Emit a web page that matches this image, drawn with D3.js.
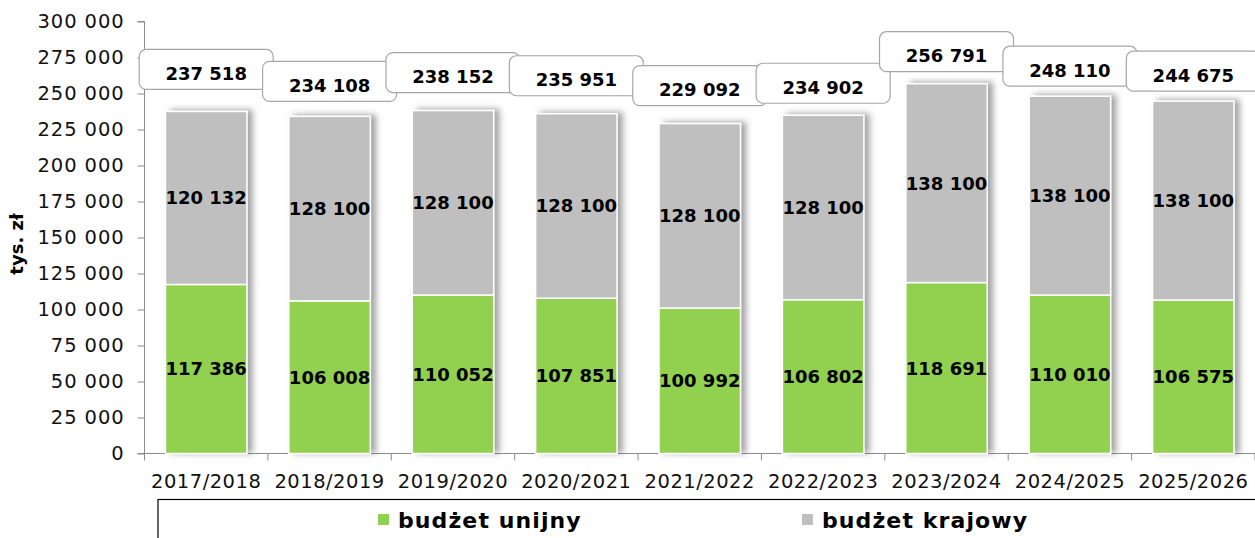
<!DOCTYPE html>
<html>
<head>
<meta charset="utf-8">
<script src="https://cdn.jsdelivr.net/npm/d3@7"></script>
<style>
  body { margin: 0; background: #fff; }
  svg { display: block; font-family: "DejaVu Sans", Verdana, sans-serif; }
</style>
</head>
<body>
<div id="root"></div>
<script>
// school years
const years = ["2017/2018","2018/2019","2019/2020","2020/2021","2021/2022","2022/2023","2023/2024","2024/2025","2025/2026"]
// thousand zl
const unijny  = [117386,106008,110052,107851,100992,106802,118691,110010,106575]
const krajowy = [120132,128100,128100,128100,128100,128100,138100,138100,138100]
const totals  = [237518,234108,238152,235951,229092,234902,256791,248110,244675]
const yTicks  = [0,25000,50000,75000,100000,125000,150000,175000,200000,225000,250000,275000,300000]
const seriesNames = ["budżet unijny","budżet krajowy"]
const colors = ["#92d050","#bfbfbf"]
// how far the total callouts sit above their bar (px), they are staggered in the original
const labelLift = [38,31,34,34,34,28,28,26,26]

const W = 1255, H = 538
const fmt = v => d3.format(",")(v).replace(/,/g," ")

const svg = d3.select("#root").append("svg")
    .attr("width",W)
    .attr("height",H)

const defs = svg.append("defs")
const shadow = defs.append("filter").attr("id","shadow")
    .attr("x","-20%").attr("y","-10%").attr("width","150%").attr("height","120%")
shadow.append("feDropShadow")
    .attr("dx",5).attr("dy",-1)
    .attr("stdDeviation",3)
    .attr("flood-color","#555")
    .attr("flood-opacity",0.55)

const x = d3.scaleBand().domain(years).range([144.5,1255]).paddingInner(0.34).paddingOuter(0.17)
const y = d3.scaleLinear().domain([0,300000]).range([453.5,21.5])

// axes
const yAxis = svg.append("g").attr("transform","translate(144.5,0)")
    .call(d3.axisLeft(y).tickValues(yTicks).tickSize(7).tickPadding(13).tickFormat(fmt))
yAxis.select(".domain").attr("stroke","#8c8c8c").attr("d","M-7,21.5H0V453.5H-7")
yAxis.selectAll(".tick line").attr("stroke","#8c8c8c")
yAxis.selectAll(".tick text").attr("font-size",19.5).attr("fill","#111")
    .attr("font-family","DejaVu Sans")
    .attr("letter-spacing",0.9)

const xAxisG = svg.append("g").attr("transform","translate(0,453.5)")
xAxisG.append("line").attr("x1",138).attr("x2",W).attr("stroke","#8c8c8c")
const step = x.step()
xAxisG.selectAll(".xtick").data(d3.range(years.length+1)).join("line")
    .attr("x1",i => 144.5+i*step).attr("x2",i => 144.5+i*step)
    .attr("y1",0).attr("y2",7)
    .attr("stroke","#8c8c8c")
xAxisG.selectAll(".xlab").data(years).join("text")
    .attr("x",d => x(d)+x.bandwidth()/2)
    .attr("y",34)
    .attr("text-anchor","middle")
    .attr("font-size",19.5)
    .attr("letter-spacing",0.5)
    .attr("fill","#111")
    .text(d => d)

svg.append("text")
    .attr("transform","translate(23,244) rotate(-90)")
    .attr("text-anchor","middle")
    .attr("font-size",18)
    .attr("font-weight","bold")
    .text("tys. zł")

// stacked bars
const rows = years.map((yr,i) => ({year:yr, unijny:unijny[i], krajowy:krajowy[i], total:totals[i], lift:labelLift[i]}))
const stack = d3.stack().keys(["unijny","krajowy"])(rows)

const barGroups = svg.append("g").selectAll("g").data(rows).join("g")
    .attr("filter","url(#shadow)")
barGroups.selectAll("rect").data((d,i) => stack.map((s,k) => ({seg:s[i], k:k, year:d.year}))).join("rect")
    .attr("x",d => x(d.year))
    .attr("width",x.bandwidth())
    .attr("y",d => y(d.seg[1]))
    .attr("height",d => y(d.seg[0])-y(d.seg[1]))
    .attr("fill",d => colors[d.k])
    .attr("stroke","#fff")
    .attr("stroke-width",1.5)

// segment labels
stack.forEach(s => {
    svg.append("g").selectAll("text").data(s).join("text")
        .attr("x",d => x(d.data.year)+x.bandwidth()/2)
        .attr("y",d => (y(d[0])+y(d[1]))/2+6.5)
        .attr("text-anchor","middle")
        .attr("font-size",18)
        .attr("font-weight","bold")
        .attr("fill","#000")
        .text(d => fmt(d[1]-d[0]))
})

// total callouts, later ones sit on top of earlier ones
const callouts = svg.append("g").selectAll("g").data(rows).join("g")
    .attr("transform",d => `translate(${x(d.year)+x.bandwidth()/2},${y(d.total)-d.lift})`)
callouts.append("rect")
    .attr("x",-67).attr("y",-24)
    .attr("width",134).attr("height",40)
    .attr("rx",7)
    .attr("fill","#fff")
    .attr("stroke","#a6a6a6")
    .attr("stroke-width",1.2)
callouts.append("text")
    .attr("y",6.5)
    .attr("text-anchor","middle")
    .attr("font-size",18)
    .attr("font-weight","bold")
    .text(d => fmt(d.total))

// legend
const legend = svg.append("g")
legend.append("rect")
    .attr("x",158).attr("y",499.5)
    .attr("width",1110).attr("height",60)
    .attr("fill","#fff")
    .attr("stroke","#000")
    .attr("stroke-width",1.2)
const legX = [378,802]
seriesNames.forEach((name,i) => {
    legend.append("rect")
        .attr("x",legX[i]).attr("y",514)
        .attr("width",11).attr("height",11)
        .attr("fill",colors[i])
    legend.append("text")
        .attr("x",legX[i]+20).attr("y",528)
        .attr("font-size",22)
        .attr("font-weight","bold")
        .attr("letter-spacing",1.1)
        .text(name)
})
</script>
</body>
</html>
